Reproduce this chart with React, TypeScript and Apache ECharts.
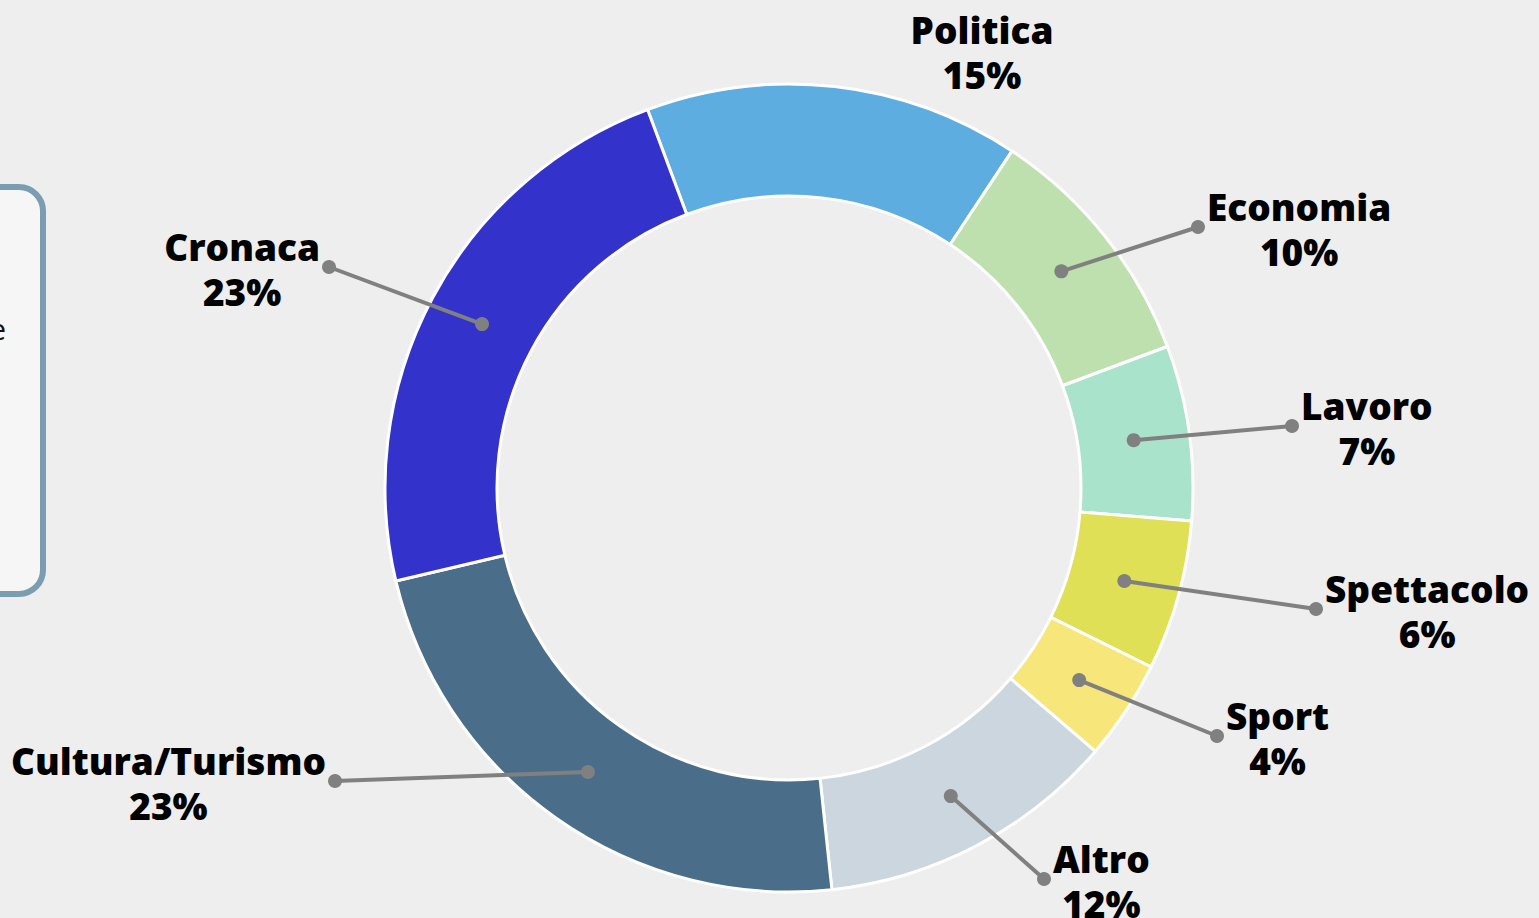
import React, { useEffect, useRef } from "react";
import * as echarts from "echarts";

const categories = ["Politica", "Economia", "Lavoro", "Spettacolo", "Sport", "Altro", "Cultura/Turismo", "Cronaca"];
const values = [15, 10, 7, 6, 4, 12, 23, 23];
const colors = ["#5dade0", "#bde0ae", "#aae3cb", "#dfe055", "#f7e679", "#ccd6df", "#4a6e8a", "#3333cc"];
// label anchor points (end of connector), layout only
const labelAnchors: [number, number][] = [
  [982, 52], [1198, 227], [1292, 426], [1316, 609], [1217, 736], [1044, 879], [335, 781], [329, 267],
];
const labelHasLine = [false, true, true, true, true, true, true, true];

const CX = 789, CY = 488, R_IN = 292, R_OUT = 404, START = 110.5;

export default function App() {
  const ref = useRef<HTMLDivElement>(null);
  useEffect(() => {
    if (!ref.current) return;
    const chart = echarts.init(ref.current, null, { renderer: "svg" });
    const total = values.reduce((a, b) => a + b, 0);
    const rMid = (R_IN + R_OUT) / 2;
    const starts: [number, number][] = [];
    let cum = 0;
    values.forEach((v) => {
      const a = ((START - ((cum + v / 2) / total) * 360) * Math.PI) / 180;
      starts.push([CX + rMid * Math.cos(a), CY - rMid * Math.sin(a)]);
      cum += v;
    });
    const connectors: any[] = [];
    values.forEach((_, i) => {
      if (!labelHasLine[i]) return;
      const s = starts[i];
      const e = labelAnchors[i];
      connectors.push({
        type: "line", z: 100, silent: true,
        shape: { x1: s[0], y1: s[1], x2: e[0], y2: e[1] },
        style: { stroke: "#808080", lineWidth: 4 },
      });
      [s, e].forEach((p) => {
        connectors.push({ type: "circle", z: 101, silent: true, shape: { cx: p[0], cy: p[1], r: 7 }, style: { fill: "#808080" } });
      });
    });
    chart.setOption({
      animation: false,
      backgroundColor: "#eeeeee",
      graphic: [
        { type: "rect", shape: { x: -30, y: 187, width: 73, height: 407, r: 24 }, style: { fill: "#f6f6f6", stroke: "#7a9db2", lineWidth: 6 } },
        { type: "text", x: 6, y: 328, style: { text: "Categorie", fill: "#111", font: "30px 'Open Sans'", align: "right", verticalAlign: "middle" } },
        ...connectors,
      ],
      series: [
        {
          type: "pie",
          center: [CX, CY],
          radius: [R_IN, R_OUT],
          startAngle: START,
          clockwise: true,
          avoidLabelOverlap: false,
          silent: true,
          itemStyle: { borderColor: "#ffffff", borderWidth: 3 },
          label: {
            show: true,
            position: "outside",
            formatter: (p: any) => `${p.name}\n${p.value}%`,
            fontFamily: "'Open Sans'",
            fontWeight: 800,
            fontSize: 37,
            lineHeight: 45,
            color: "#000",
            align: "center",
          },
          labelLine: { show: false },
          labelLayout: (params: any) => {
            const i = params.dataIndex;
            const [ax, ay] = labelAnchors[i];
            const w = params.labelRect.width;
            if (!labelHasLine[i]) {
              return { x: ax, y: ay, align: "center", verticalAlign: "middle" };
            }
            const right = ax > CX;
            const x = right ? ax + 9 + w / 2 : ax - 9 - w / 2;
            return { x, y: ay + 2, align: "center", verticalAlign: "middle" };
          },
          data: categories.map((c, i) => ({ name: c, value: values[i], itemStyle: { color: colors[i] } })),
        },
      ],
    });
    return () => chart.dispose();
  }, []);
  return <div ref={ref} style={{ position: "fixed", left: 0, top: 0, width: 1539, height: 918, background: "#eeeeee" }} />;
}
